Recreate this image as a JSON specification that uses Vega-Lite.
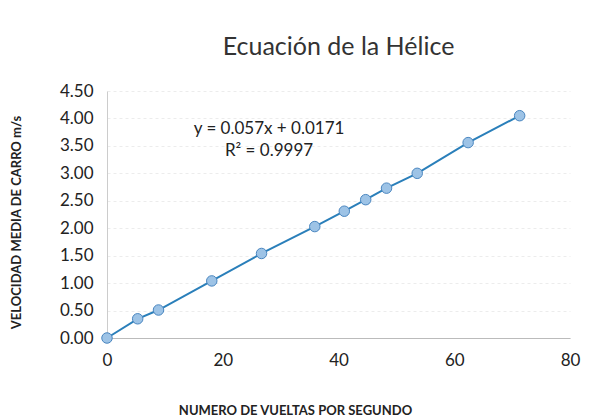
{
  "$schema": "https://vega.github.io/schema/vega-lite/v6.json",
  "width": 463,
  "height": 247,
  "autosize": {"type": "none"},
  "padding": {"left": 107, "top": 91, "right": 33, "bottom": 82},
  "background": "white",
  "config": {
    "view": {"stroke": null},
    "font": "Lato"
  },
  "title": {
    "text": "Ecuación de la Hélice",
    "fontSize": 25,
    "fontWeight": "normal",
    "color": "#333333",
    "anchor": "middle",
    "offset": 22,
    "font": "Lato"
  },
  "datasets": {
    "pts": [
      {"x": 0, "y": 0},
      {"x": 5.3, "y": 0.35},
      {"x": 8.9, "y": 0.51},
      {"x": 18.1, "y": 1.04},
      {"x": 26.7, "y": 1.54},
      {"x": 35.9, "y": 2.03},
      {"x": 41.0, "y": 2.31},
      {"x": 44.7, "y": 2.52},
      {"x": 48.3, "y": 2.73},
      {"x": 53.6, "y": 3.0},
      {"x": 62.4, "y": 3.56},
      {"x": 71.3, "y": 4.05}
    ],
    "labels": [
      {"x": 28, "y": 3.8, "t": "y = 0.057x + 0.0171"},
      {"x": 28, "y": 3.4, "t": "R² = 0.9997"}
    ]
  },
  "encoding": {
    "x": {
      "field": "x", "type": "quantitative",
      "scale": {"domain": [0, 80]},
      "axis": {
        "values": [0, 20, 40, 60, 80],
        "title": "NUMERO DE VUELTAS POR SEGUNDO",
        "titleFont": "Lato", "titleFontSize": 13, "titleFontWeight": "bold", "titleColor": "#222222",
        "titleX": 188, "titleY": 79, "titleBaseline": "bottom",
        "labelFontSize": 17, "labelColor": "#222222", "labelPadding": 14,
        "labelFlush": false, "labelOverlap": false,
        "ticks": false, "grid": false,
        "domainColor": "#bbbbbb"
      }
    },
    "y": {
      "field": "y", "type": "quantitative",
      "scale": {"domain": [0, 4.5]},
      "axis": {
        "values": [0, 0.5, 1, 1.5, 2, 2.5, 3, 3.5, 4, 4.5],
        "format": ".2f",
        "title": "VELOCIDAD MEDIA DE CARRO m/s",
        "titleFont": "Lato", "titleFontSize": 13, "titleFontWeight": "bold", "titleColor": "#222222",
        "titleX": -91, "titleY": 131, "titleAngle": -90, "titleBaseline": "middle", "titleAlign": "center",
        "labelFontSize": 17, "labelColor": "#222222", "labelPadding": 14,
        "labelFlush": false, "labelOverlap": false, "labelBound": false,
        "ticks": false,
        "grid": true, "gridColor": "#ececec", "gridDash": [3, 3],
        "domainColor": "#cccccc"
      }
    }
  },
  "layer": [
    {
      "data": {"name": "pts"},
      "mark": {"type": "line", "color": "#2a7fba", "strokeWidth": 2}
    },
    {
      "data": {"name": "pts"},
      "mark": {"type": "point", "filled": true, "size": 110, "fill": "#9dc3e6", "stroke": "#4a86c0", "strokeWidth": 1, "opacity": 1}
    },
    {
      "data": {"name": "labels"},
      "mark": {"type": "text", "fontSize": 17, "font": "Lato", "color": "#222222", "align": "center"},
      "encoding": {
        "text": {"field": "t"}
      }
    }
  ]
}
